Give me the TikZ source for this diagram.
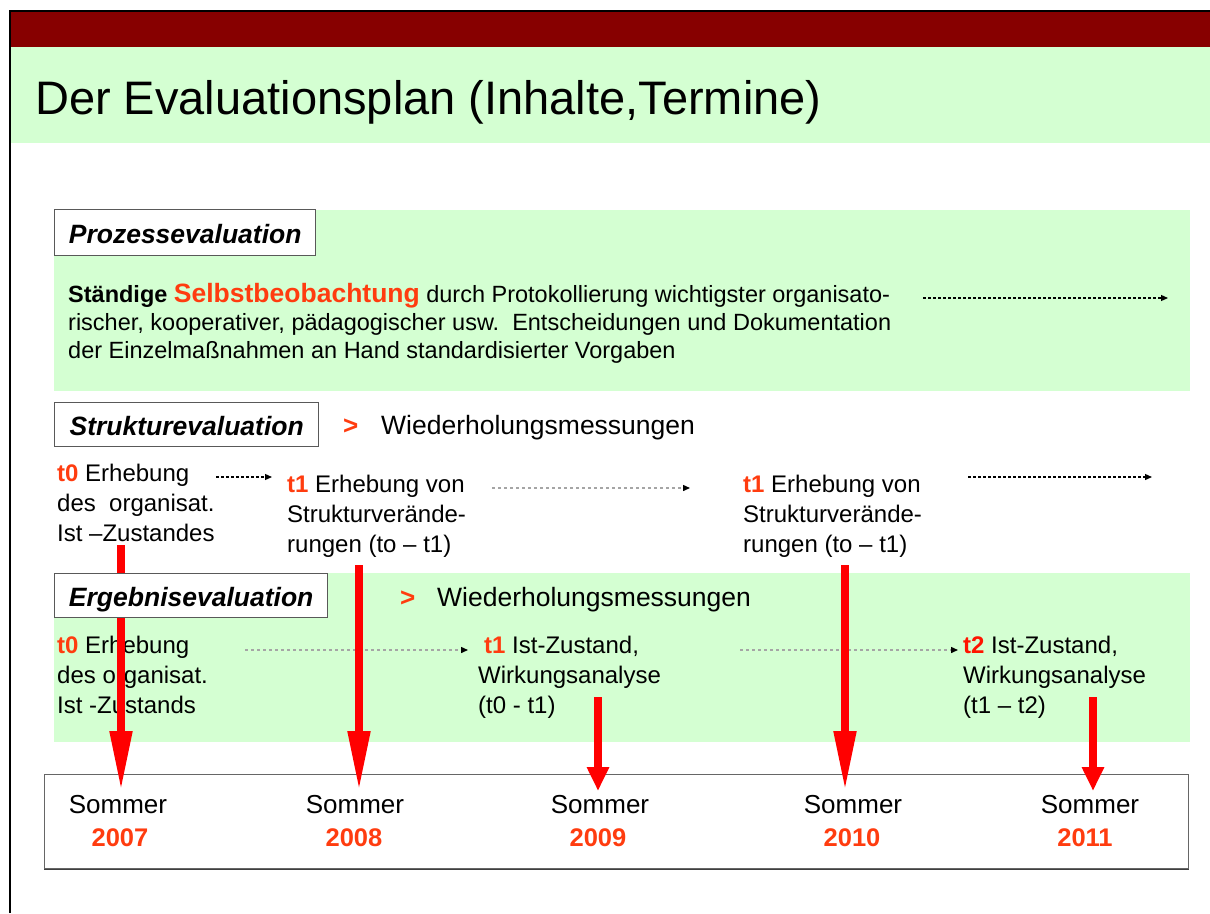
\documentclass[tikz,border=0pt]{standalone}
\usepackage{fontspec}
\setmainfont{Liberation Sans}
\usetikzlibrary{arrows.meta}

\definecolor{bandred}{RGB}{135,0,0}
\definecolor{paleg}{RGB}{212,255,210}
\definecolor{accent}{RGB}{255,60,15}
\definecolor{tred}{RGB}{255,20,0}
\definecolor{dotgray}{RGB}{165,165,165}

\newcommand\fsz[2]{\fontsize{#1}{#2}\selectfont}
\newcommand\tmark[1]{\textcolor{accent}{\textbf{#1}}}

\tikzset{
  tag/.style={draw=black!65, line width=1.4pt, fill=white, inner sep=0pt,
    font=\fsz{26.5}{30}\bfseries\itshape, text height=22pt, text depth=0pt},
  plain/.style={anchor=base west, inner sep=0pt},
  tblock/.style={anchor=base west, inner sep=0pt, font=\fsz{24}{30}},
  hint/.style={anchor=base west, inner sep=0pt, font=\fsz{26.5}{30}},
  gtmark/.style={anchor=base west, inner sep=0pt, font=\fsz{26}{30}\bfseries, text=accent},
  season/.style={anchor=base, inner sep=0pt, font=\fsz{26}{30}},
  year/.style={anchor=base, inner sep=0pt, font=\fsz{25.5}{30}\bfseries, text=accent},
  blackflow/.style={draw=black, line width=1.2pt, dash pattern=on 3pt off 2pt,
    -{Triangle[length=7pt,width=6pt]}},
  grayflow/.style={draw=dotgray, line width=1.4pt, dash pattern=on 3pt off 3pt,
    -{Triangle[length=7pt,width=6pt,color=black]}},
  longdrop/.style={draw=red, line width=8pt, -{Triangle[length=60pt,width=21pt]}},
  shortdrop/.style={draw=red, line width=8pt, -{Triangle[length=24pt,width=21pt]}},
}

\begin{document}
\begin{tikzpicture}[x=1pt,y=-1pt]
\useasboundingbox (0,0) rectangle (1210,913);
\fill[white] (0,0) rectangle (1210,913);

% header: dark red band, pale green title strip, black frame edge
\fill[bandred] (10,12) rectangle (1210,47);
\fill[paleg] (10,47) rectangle (1210,143);
\draw[line width=2pt] (10,913) -- (10,11) -- (1210,11);
\node[plain, font=\fsz{47}{50}] (title) at (35,114) {Der Evaluationsplan (Inhalte,Termine)};

% green panels
\fill[paleg] (54,210) rectangle (1190,391);
\fill[paleg] (54,573) rectangle (1190,742);

% process evaluation
\node[tag, anchor=north west, minimum width=261pt, minimum height=46pt] (lproc) at (54,209) {Prozessevaluation};
\node[plain, font=\fsz{23.5}{28.2}] (ptext) at (68,302) {\begin{tabular}[t]{@{}l@{}}
\textbf{Ständige} {\fsz{26.5}{28.2}\bfseries\color{accent}Selbstbeobachtung} durch Protokollierung wichtigster organisato-\\
rischer, kooperativer, pädagogischer usw.\ \ Entscheidungen und Dokumentation\\
der Einzelmaßnahmen an Hand standardisierter Vorgaben
\end{tabular}};
\coordinate (pa) at (923,298);
\coordinate (pb) at (1168,298);
\draw[blackflow] (pa) -- (pb);

% structure evaluation
\node[tag, anchor=north west, minimum width=264pt, minimum height=44pt] (lstruct) at (54,402) {Strukturevaluation};
\node[gtmark] (gts) at (343,434) {>};
\node[hint] (wds) at (381,434) {Wiederholungsmessungen};

\node[tblock] (s0) at (57,481) {\begin{tabular}[t]{@{}l@{}}
\tmark{t0} Erhebung\\ des\ \ organisat.\\ Ist –Zustandes\end{tabular}};
\node[tblock] (s1) at (287,492) {\begin{tabular}[t]{@{}l@{}}
\tmark{t1} Erhebung von\\ Strukturverände-\\ rungen (to – t1)\end{tabular}};
\node[tblock] (s2) at (743,492) {\begin{tabular}[t]{@{}l@{}}
\tmark{t1} Erhebung von\\ Strukturverände-\\ rungen (to – t1)\end{tabular}};

\coordinate (sa1) at (216,477); \coordinate (sb1) at (272,477);
\coordinate (sa2) at (492,488); \coordinate (sb2) at (690,488);
\coordinate (sa3) at (968,477); \coordinate (sb3) at (1152,477);
\draw[blackflow] (sa1) -- (sb1);
\draw[grayflow] (sa2) -- (sb2);
\draw[blackflow] (sa3) -- (sb3);

% result evaluation
\node[gtmark] (gte) at (400,606) {>};
\node[hint] (wde) at (437,606) {Wiederholungsmessungen};

\node[tblock] (e0) at (57,653) {\begin{tabular}[t]{@{}l@{}}
\tmark{t0} Erhebung\\ des organisat.\\ Ist -Zustands\end{tabular}};
\node[tblock] (e1) at (478,653) {\begin{tabular}[t]{@{}l@{}}
\hspace{6pt}\tmark{t1} Ist-Zustand,\\ Wirkungsanalyse\\ (t0 - t1)\end{tabular}};
\node[tblock] (e2) at (963,653) {\begin{tabular}[t]{@{}l@{}}
\textcolor{tred}{\textbf{t2}} Ist-Zustand,\\ Wirkungsanalyse\\ (t1 – t2)\end{tabular}};

\coordinate (ea1) at (245,650); \coordinate (eb1) at (468,650);
\coordinate (ea2) at (740,650); \coordinate (eb2) at (958,650);
\draw[grayflow] (ea1) -- (eb1);
\draw[grayflow] (ea2) -- (eb2);

% time line
\node[draw=black!60, line width=1.3pt, fill=white, anchor=north west,
      minimum width=1144pt, minimum height=94pt, inner sep=0pt] (tbox) at (44,774) {};
\draw[black!75, line width=1.5pt] (tbox.south west) -- (tbox.south east);

\node[season] (so1) at (118,813) {Sommer};
\node[season] (so2) at (355,813) {Sommer};
\node[season] (so3) at (600,813) {Sommer};
\node[season] (so4) at (853,813) {Sommer};
\node[season] (so5) at (1090,813) {Sommer};
\node[year] (y1) at (120,846) {2007};
\node[year] (y2) at (354,846) {2008};
\node[year] (y3) at (598,846) {2009};
\node[year] (y4) at (852,846) {2010};
\node[year] (y5) at (1085,846) {2011};

% red drop arrows onto the dates
\coordinate (d1) at (121,545); \coordinate (t1) at (121,791);
\coordinate (d2) at (359,565); \coordinate (t2) at (359,791);
\coordinate (d3) at (598,697); \coordinate (t3) at (598,791);
\coordinate (d4) at (845,565); \coordinate (t4) at (845,791);
\coordinate (d5) at (1093,697); \coordinate (t5) at (1093,791);
\draw[longdrop] (d1) -- (t1);
\draw[longdrop] (d2) -- (t2);
\draw[shortdrop] (d3) -- (t3);
\draw[longdrop] (d4) -- (t4);
\draw[shortdrop] (d5) -- (t5);

% label box sits on top of the first drop arrow
\node[tag, anchor=north west, minimum width=273pt, minimum height=44pt] (lresult) at (54,573) {Ergebnisevaluation};
\end{tikzpicture}
\end{document}
